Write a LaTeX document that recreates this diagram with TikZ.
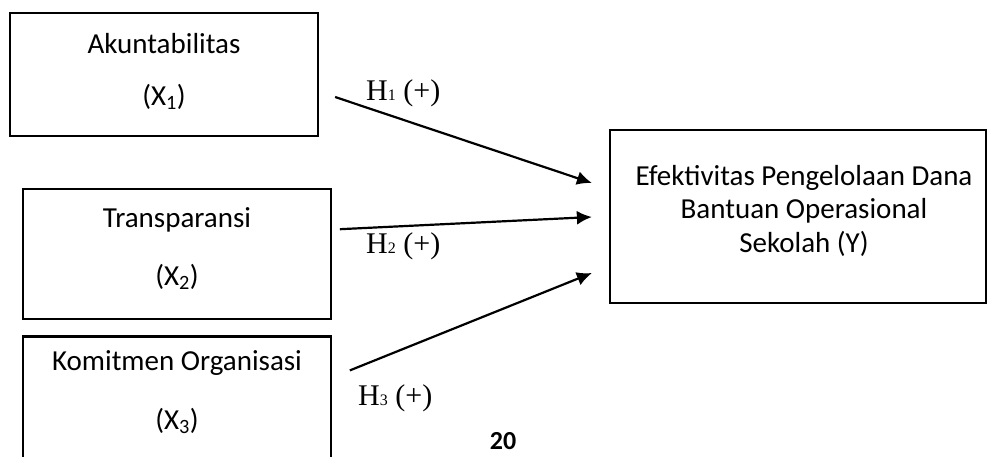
\documentclass[tikz,border=0pt]{standalone}
\usepackage{fontspec}
\setmainfont{Carlito}
\newfontfamily\hfont{Liberation Serif}
\usetikzlibrary{positioning, arrows.meta}

\begin{document}
\begin{tikzpicture}[x=1pt, y=-1pt,
    box/.style={draw, line width=2.2pt, inner sep=0pt},
    txt/.style={inner sep=0pt, anchor=base, font=\fontsize{29}{35}\selectfont},
    hyp/.style={inner sep=0pt, anchor=base west, font=\hfont\fontsize{30}{36}\selectfont},
    panah/.style={-{Latex[length=15pt,width=14pt]}, line width=2.2pt}]

  \useasboundingbox (0,0) rectangle (988,456);
  \clip (0,0) rectangle (988,456);

  % Variabel independen
  \node[box, minimum width=308pt, minimum height=123pt] (akun) at (164,74.5) {};
  \node[box, minimum width=308pt, minimum height=130pt, below=51pt of akun, xshift=12.75pt] (trans) {};
  \node[box, minimum width=308pt, minimum height=150pt, below=15pt of trans] (komit) {};

  \node[txt] (akun1) at (164,53) {Akuntabilitas};
  \node[txt] (akun2) at (164,105) {(X\textsubscript{1})};
  \node[txt] (trans1) at (177,227) {Transparansi};
  \node[txt] (trans2) at (177,285) {(X\textsubscript{2})};
  \node[txt] (komit1) at (177,370) {Komitmen Organisasi};
  \node[txt] (komit2) at (177,429) {(X\textsubscript{3})};

  % Variabel dependen
  \node[box, minimum width=376pt, minimum height=173pt] (efek) at (798,216.5) {};
  \node[txt] (efek1) at (804,185) {Efektivitas Pengelolaan Dana};
  \node[txt] (efek2) at (804,218) {Bantuan Operasional};
  \node[txt] (efek3) at (804,252) {Sekolah (Y)};

  % Hipotesis
  \coordinate (h1a) at ([xshift=16pt, yshift=-22.5pt]akun.east);
  \coordinate (h2a) at ([xshift=8pt, yshift=25pt]trans.east);
  \coordinate (h3a) at ([xshift=18pt, yshift=41pt]komit.east);
  \coordinate (h1b) at ([xshift=-17pt, yshift=33.5pt]efek.west);
  \coordinate (h2b) at ([xshift=-17pt, yshift=-0.5pt]efek.west);
  \coordinate (h3b) at ([xshift=-17pt, yshift=-56.5pt]efek.west);

  \draw[panah] (h1a) -- (h1b);
  \draw[panah] (h2a) -- (h2b);
  \draw[panah] (h3a) -- (h3b);

  \node[hyp] (h1) at (366,100) {H{\fontsize{16}{16}\selectfont 1} (+)};
  \node[hyp] (h2) at (366,253) {H{\fontsize{16}{16}\selectfont 2} (+)};
  \node[hyp] (h3) at (358,405) {H{\fontsize{16}{16}\selectfont 3} (+)};

  % Nomor halaman
  \node[txt, font=\bfseries\fontsize{26}{31}\selectfont] (hal) at (503,449) {20};

\end{tikzpicture}
\end{document}
